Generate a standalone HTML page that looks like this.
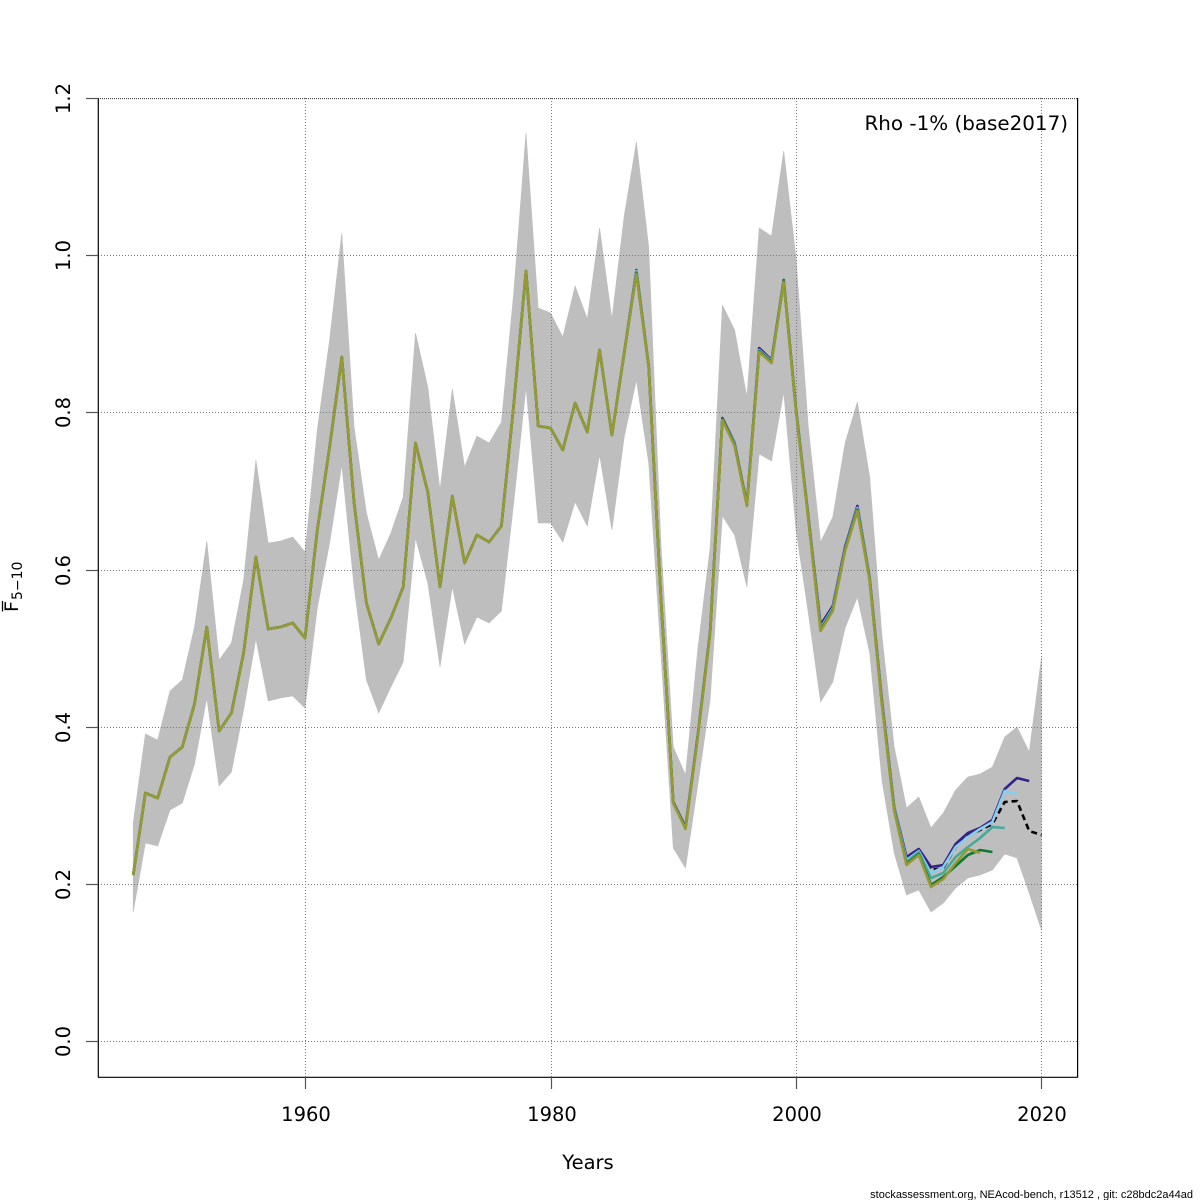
<!DOCTYPE html>
<html>
<head>
<meta charset="utf-8">
<style>
html,body{margin:0;padding:0;background:#fff;}
svg{display:block;}
text{font-family:"DejaVu Sans","Liberation Sans",sans-serif;fill:#000;}
</style>
</head>
<body>
<svg width="1200" height="1200" viewBox="0 0 1200 1200" xmlns="http://www.w3.org/2000/svg">
<rect x="0" y="0" width="1200" height="1200" fill="#fff"/>

<!-- confidence band -->
<polygon fill="#BEBEBE" stroke="#BEBEBE" stroke-width="0.6" points="
133.2,823 145.4,734 157.7,740 170.0,691 182.3,680 194.5,627 206.8,541 219.1,660 231.4,643 243.6,580 255.9,460 268.2,543 280.5,541 292.7,537 305,552 317.3,430 329.6,340 341.8,233 354.1,427 366.4,513 378.7,560 390.9,533 403.2,497 415.5,333 427.8,387 440,490 452.3,389 464.6,467 476.9,436 489.1,443 501.4,422 513.7,293 526,133 538.2,308 550.5,313 562.8,337 575.1,286 587.3,319 599.6,228 611.9,319 624.2,216 636.4,142 648.7,247 661,545 673.3,747 685.5,775 697.8,649 710.1,548 722.4,305 734.6,330 746.9,397 759.2,228 771.5,236 783.7,151 796,258 808.3,427 820.6,542 832.8,517 845.1,443 857.4,402 869.7,477 881.9,635 894.2,747 906.5,808 918.8,797 931,828 943.3,813 955.6,790 967.9,777 980.1,774 992.4,767 1004.7,737 1017,727 1029.2,752 1041.5,657
1041.5,930 1029.2,893 1017,858 1004.7,854 992.4,870 980.1,875 967.9,878 955.6,888 943.3,903 931,912 918.8,890 906.5,895 894.2,853 881.9,780 869.7,653 857.4,597 845.1,628 832.8,682 820.6,702 808.3,613 796,530 783.7,392 771.5,461 759.2,454 746.9,587 734.6,535 722.4,516 710.1,700 697.8,785 685.5,868 673.3,848 661,655 648.7,463 636.4,380 624.2,437 611.9,530 599.6,455 587.3,526 575.1,502 562.8,542 550.5,523 538.2,523 526,387 513.7,503 501.4,611 489.1,623 476.9,617 464.6,644 452.3,587 440,667 427.8,583 415.5,538 403.2,662 390.9,687 378.7,713 366.4,680 354.1,587 341.8,465 329.6,543 317.3,608 305,708 292.7,696 280.5,698 268.2,701 255.9,639 243.6,710 231.4,772 219.1,786 206.8,698 194.5,764 182.3,803 170,810 157.7,846 145.4,843 133.2,912"/>

<!-- grid -->
<g stroke="#7a7a7a" stroke-width="1" stroke-dasharray="1 2" fill="none">
<line x1="98" y1="1041.5" x2="1077" y2="1041.5"/>
<line x1="98" y1="884.5" x2="1077" y2="884.5"/>
<line x1="98" y1="727.5" x2="1077" y2="727.5"/>
<line x1="98" y1="570.5" x2="1077" y2="570.5"/>
<line x1="98" y1="412.5" x2="1077" y2="412.5"/>
<line x1="98" y1="255.5" x2="1077" y2="255.5"/>
<line x1="305.5" y1="98" x2="305.5" y2="1077"/>
<line x1="551.5" y1="98" x2="551.5" y2="1077"/>
<line x1="796.5" y1="98" x2="796.5" y2="1077"/>
<line x1="1041.5" y1="98" x2="1041.5" y2="1077"/>
</g>

<!-- series -->
<g fill="none" stroke-width="2.6" stroke-linejoin="round" stroke-linecap="butt">
<!-- base (black dashed) -->
<polyline stroke="#000" stroke-dasharray="6 4" points="133.2,875 145.4,793 157.7,798 170,757 182.3,747 194.5,704 206.8,627 219.1,731 231.4,713 243.6,653 255.9,557 268.2,629 280.5,627 292.7,623 305,638 317.3,530 329.6,447 341.8,357 354.1,503 366.4,603 378.7,644 390.9,618 403.2,587 415.5,443 427.8,492 440,587 452.3,496 464.6,563 476.9,535 489.1,542 501.4,526 513.7,405 526,271 538.2,426 550.5,428 562.8,450 575.1,403 587.3,432 599.6,350 611.9,435 624.2,353 636.4,272 648.7,367 661,600 673.3,803 685.5,828 697.8,736 710.1,633 722.4,419 734.6,445 746.9,505 759.2,350 771.5,362 783.7,281 796,410 808.3,518 820.6,628 832.8,609 845.1,549 857.4,508 869.7,580 881.9,703 894.2,808 906.5,858 918.8,850 931,870 943.3,868 955.6,847 967.9,836 980.1,830 992.4,824 1004.7,802 1017,801 1029.2,831 1041.5,835"/>
<!-- peel 1 navy -->
<polyline stroke="#332288" points="133.2,875 145.4,793 157.7,798 170,757 182.3,747 194.5,704 206.8,627 219.1,731 231.4,713 243.6,653 255.9,557 268.2,629 280.5,627 292.7,623 305,638 317.3,530 329.6,447 341.8,357 354.1,503 366.4,603 378.7,644 390.9,618 403.2,587 415.5,443 427.8,492 440,587 452.3,496 464.6,563 476.9,535 489.1,542 501.4,526 513.7,405 526,271 538.2,426 550.5,428 562.8,450 575.1,403 587.3,432 599.6,350 611.9,435 624.2,353 636.4,270 648.7,366 661,599 673.3,802 685.5,827 697.8,735 710.1,632 722.4,418 734.6,443 746.9,504 759.2,348 771.5,360 783.7,280 796,409 808.3,516 820.6,625 832.8,606 845.1,547 857.4,506 869.7,578 881.9,700 894.2,807 906.5,857 918.8,849 931,867 943.3,865 955.6,844 967.9,833 980.1,828 992.4,820 1004.7,789 1017,778 1029.2,781"/>
<!-- peel 2 light blue -->
<polyline stroke="#88CCEE" points="133.2,875 145.4,793 157.7,798 170,757 182.3,747 194.5,704 206.8,627 219.1,731 231.4,713 243.6,653 255.9,557 268.2,629 280.5,627 292.7,623 305,638 317.3,530 329.6,447 341.8,357 354.1,503 366.4,603 378.7,644 390.9,618 403.2,587 415.5,443 427.8,492 440,587 452.3,496 464.6,563 476.9,535 489.1,542 501.4,526 513.7,405 526,271 538.2,426 550.5,428 562.8,450 575.1,403 587.3,432 599.6,350 611.9,435 624.2,353 636.4,271 648.7,367 661,600 673.3,803 685.5,828 697.8,736 710.1,633 722.4,419 734.6,444 746.9,505 759.2,350 771.5,361 783.7,281 796,410 808.3,517 820.6,628 832.8,608 845.1,549 857.4,508 869.7,579 881.9,702 894.2,808 906.5,860 918.8,851 931,873 943.3,867 955.6,847 967.9,837 980.1,829 992.4,822 1004.7,791 1017,794"/>
<!-- peel 3 teal -->
<polyline stroke="#44AA99" points="133.2,875 145.4,793 157.7,798 170,757 182.3,747 194.5,704 206.8,627 219.1,731 231.4,713 243.6,653 255.9,557 268.2,629 280.5,627 292.7,623 305,638 317.3,530 329.6,447 341.8,357 354.1,503 366.4,603 378.7,644 390.9,618 403.2,587 415.5,443 427.8,492 440,587 452.3,496 464.6,563 476.9,535 489.1,542 501.4,526 513.7,405 526,271 538.2,426 550.5,428 562.8,450 575.1,403 587.3,432 599.6,350 611.9,435 624.2,353 636.4,272 648.7,367 661,600 673.3,803 685.5,828 697.8,736 710.1,633 722.4,419 734.6,445 746.9,505 759.2,351 771.5,362 783.7,281 796,410 808.3,518 820.6,629 832.8,609 845.1,550 857.4,509 869.7,580 881.9,703 894.2,809 906.5,862 918.8,852 931,878 943.3,873 955.6,857 967.9,847 980.1,838 992.4,827 1004.7,828"/>
<!-- peel 4 green -->
<polyline stroke="#117733" points="133.2,875 145.4,793 157.7,798 170,757 182.3,747 194.5,704 206.8,627 219.1,731 231.4,713 243.6,653 255.9,557 268.2,629 280.5,627 292.7,623 305,638 317.3,530 329.6,447 341.8,357 354.1,503 366.4,603 378.7,644 390.9,618 403.2,587 415.5,443 427.8,492 440,587 452.3,496 464.6,563 476.9,535 489.1,542 501.4,526 513.7,405 526,271 538.2,426 550.5,428 562.8,450 575.1,403 587.3,432 599.6,350 611.9,435 624.2,353 636.4,273 648.7,367 661,600 673.3,803 685.5,828 697.8,736 710.1,633 722.4,419 734.6,445 746.9,505 759.2,351 771.5,362 783.7,281 796,410 808.3,518 820.6,630 832.8,610 845.1,550 857.4,510 869.7,580 881.9,703 894.2,810 906.5,864 918.8,854 931,885 943.3,877 955.6,866 967.9,855 980.1,850 992.4,852"/>
<!-- peel 5 olive -->
<polyline stroke="#999933" points="133.2,875 145.4,793 157.7,798 170,757 182.3,747 194.5,704 206.8,627 219.1,731 231.4,713 243.6,653 255.9,557 268.2,629 280.5,627 292.7,623 305,638 317.3,530 329.6,447 341.8,357 354.1,503 366.4,603 378.7,644 390.9,618 403.2,587 415.5,443 427.8,492 440,587 452.3,496 464.6,563 476.9,535 489.1,542 501.4,526 513.7,405 526,271 538.2,426 550.5,428 562.8,450 575.1,403 587.3,432 599.6,350 611.9,435 624.2,353 636.4,274 648.7,367 661,600 673.3,803 685.5,829 697.8,737 710.1,634 722.4,420 734.6,446 746.9,506 759.2,352 771.5,363 783.7,282 796,411 808.3,519 820.6,631 832.8,611 845.1,551 857.4,511 869.7,581 881.9,704 894.2,811 906.5,865 918.8,855 931,887 943.3,879 955.6,863 967.9,849 980.1,853"/>
</g>

<!-- axes box -->
<g stroke="#000" stroke-width="1.2" fill="none">
<line x1="98.3" y1="98" x2="98.3" y2="1077.3"/>
<line x1="98" y1="1077.3" x2="1077.6" y2="1077.3"/>
<line x1="1077.6" y1="98" x2="1077.6" y2="1077.6"/>
</g>
<line x1="98" y1="98.6" x2="1077.6" y2="98.6" stroke="#333" stroke-width="1" stroke-dasharray="1 1"/>

<!-- ticks -->
<g stroke="#555" stroke-width="1.2">
<line x1="305.5" y1="1077" x2="305.5" y2="1089"/>
<line x1="551.5" y1="1077" x2="551.5" y2="1089"/>
<line x1="796.5" y1="1077" x2="796.5" y2="1089"/>
<line x1="1041.5" y1="1077" x2="1041.5" y2="1089"/>
<line x1="86" y1="1041.5" x2="98" y2="1041.5"/>
<line x1="86" y1="884.5" x2="98" y2="884.5"/>
<line x1="86" y1="727.5" x2="98" y2="727.5"/>
<line x1="86" y1="570.5" x2="98" y2="570.5"/>
<line x1="86" y1="412.5" x2="98" y2="412.5"/>
<line x1="86" y1="255.5" x2="98" y2="255.5"/>
<line x1="86" y1="98.5" x2="98" y2="98.5"/>
</g>

<!-- x tick labels -->
<g font-size="19.5" text-anchor="middle">
<text x="306" y="1121">1960</text>
<text x="552" y="1121">1980</text>
<text x="797" y="1121">2000</text>
<text x="1042" y="1121">2020</text>
</g>

<!-- y tick labels -->
<g font-size="19.5" text-anchor="middle">
<text transform="translate(70,1041.5) rotate(-90)">0.0</text>
<text transform="translate(70,884.5) rotate(-90)">0.2</text>
<text transform="translate(70,727.5) rotate(-90)">0.4</text>
<text transform="translate(70,570.5) rotate(-90)">0.6</text>
<text transform="translate(70,412.5) rotate(-90)">0.8</text>
<text transform="translate(70,255.5) rotate(-90)">1.0</text>
<text transform="translate(70,98.5) rotate(-90)">1.2</text>
</g>

<!-- axis titles -->
<text x="588" y="1169" font-size="19.5" text-anchor="middle">Years</text>
<g transform="translate(18,612) rotate(-90)">
<text x="0" y="0" font-size="19">F</text>
<line x1="0.5" y1="-15.5" x2="11" y2="-15.5" stroke="#000" stroke-width="1.3"/>
<text x="12" y="4" font-size="14">5−10</text>
</g>

<!-- legend -->
<text x="1068" y="130" font-size="19.9" text-anchor="end">Rho -1% (base2017)</text>

<!-- footer -->
<text x="1193" y="1198" font-size="11" text-anchor="end" style="font-family:'Liberation Sans',sans-serif">stockassessment.org, NEAcod-bench, r13512 , git: c28bdc2a44ad</text>
</svg>
</body>
</html>
